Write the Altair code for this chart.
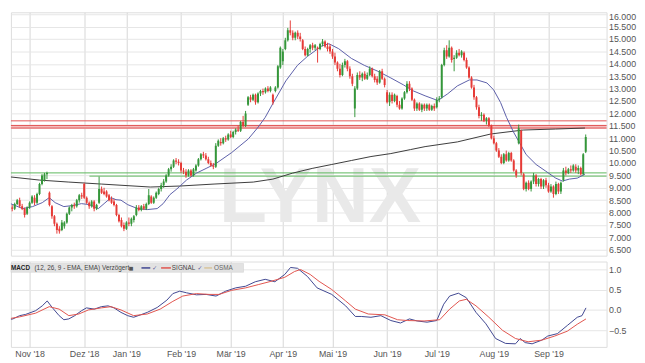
import json
import altair as alt
import pandas as pd

# ---------------- data ----------------
# trading-day index: 0 = first trading day of Nov 2018
FIRST_DAY = -7
opens = [8200, 8150, 8350, 8500, 8250, 8150, 7950,
         8200, 8400, 8600, 8400, 8750, 9150, 9300, 9550, 8800, 8250,
         7850, 7550, 7350, 7300, 7450, 7600, 7950, 8200, 8300, 8250,
         8500, 8700, 9150, 8600, 8400, 8250, 8450, 8150, 8400, 8950,
         8850, 8850, 8700, 8550, 8450, 8300, 7900, 7700, 7500, 7350,
         7600, 7550, 7700, 7900, 8200, 8100, 8250, 8150, 8350, 8650,
         8400, 8600, 8750, 8950, 9100, 9250, 9500, 9750, 9850, 10100,
         10050, 10000, 9700, 9650, 9500, 9700, 9500, 9700, 9900, 10150,
         10350, 10300, 10150, 10000, 9900, 9850, 10700, 10850, 10800, 11000,
         10950, 11150, 11050, 11250, 11350, 11300, 11650, 11500, 12350, 12650,
         12550, 12750, 12450, 12800, 12900, 12850, 13000, 12900, 12750, 12900,
         13050, 13850, 14100, 14600, 14950, 15350, 15250, 15050, 15250, 15100,
         14950, 14600, 14350, 14600, 14750, 14650, 14650, 14600, 14800, 14900,
         14700, 14700, 14500, 14300, 14050, 13800, 13550, 13950, 14100, 13800,
         13500, 12200, 13000, 13550, 13450, 13600, 13400, 13550, 13800, 13500,
         13400, 13250, 13700, 13400, 12850, 12450, 12750, 12500, 12700, 12350,
         12200, 12600, 12850, 13200, 13000, 12550, 12200, 12400, 12150, 12350,
         12200, 12350, 12150, 12300, 12250, 12550, 12650, 13950, 14550, 14300,
         14650, 14200, 14250, 14450, 14350, 14450, 14150, 13850, 13450, 13050,
         12650, 12250, 11900, 11950, 11700, 11800, 11500, 11000, 10800, 10500,
         10250, 10000, 10350, 10100, 10400, 10100, 9700, 10800, 11300, 9550,
         8950, 9200, 8950, 9250, 9500, 9150, 9350, 9050, 9300, 9100,
         8850, 9050, 8750, 9150, 8850, 9300, 9700, 9600, 9750, 9700,
         9850, 9700, 9800, 9550, 10450]
highs = [8300, 8400, 8550, 8600, 8350, 8200, 8250,
         8450, 8700, 8700, 8800, 9200, 9550, 9600, 9650, 8850, 8300,
         7900, 7600, 7450, 7700, 7650, 8000, 8250, 8350, 8400, 8550,
         8750, 8800, 9200, 8650, 8450, 8500, 8500, 8350, 9450, 9050,
         9000, 8900, 8750, 8650, 8550, 8350, 7950, 7800, 7600, 7650,
         7800, 7800, 7900, 8300, 8300, 8300, 8350, 8400, 8950, 8700,
         8650, 8850, 9000, 9200, 9350, 9550, 9800, 9950, 10150, 10200,
         10150, 10050, 9800, 9750, 9750, 9750, 9800, 9950, 10200, 10400,
         10450, 10400, 10250, 10100, 10000, 10800, 10950, 11000, 11050, 11100,
         11200, 11300, 11300, 11400, 11500, 11700, 11900, 12100, 12700, 12750,
         12800, 12800, 12850, 12950, 13000, 13050, 13100, 13100, 12800, 13100,
         13950, 14700, 14600, 15050, 15450, 15750, 15350, 15300, 15350, 15250,
         15000, 14700, 14650, 14800, 14850, 14800, 14700, 14850, 15000, 14950,
         14850, 14800, 14600, 14450, 14100, 14000, 14050, 14200, 14150, 13900,
         13600, 13100, 13650, 13700, 13650, 13700, 13650, 13900, 13850, 13600,
         13500, 13750, 13800, 13450, 12950, 12850, 12850, 12800, 12750, 12500,
         12650, 12900, 13300, 13300, 13050, 12600, 12450, 12450, 12400, 12400,
         12400, 12400, 12350, 12400, 12650, 12700, 14000, 14650, 14750, 14950,
         14700, 14350, 14550, 14600, 14550, 14500, 14250, 13900, 13500, 13150,
         12700, 12350, 12050, 12000, 11850, 11850, 11550, 11100, 10850, 10600,
         10350, 10400, 10500, 10450, 10450, 10150, 9750, 11550, 11350, 9600,
         9250, 9300, 9300, 9600, 9550, 9400, 9400, 9350, 9400, 9200,
         9150, 9100, 9250, 9200, 9250, 9800, 9850, 9800, 9900, 9950,
         9950, 9900, 9850, 10400, 11150]
lows = [8050, 8100, 8300, 8200, 8100, 7800, 7900,
        8150, 8350, 8300, 8350, 8700, 9100, 9250, 9350, 8250, 7750,
        7450, 7150, 7150, 7250, 7350, 7550, 7900, 8050, 8150, 8200,
        8400, 8550, 8550, 8350, 8150, 8200, 8050, 8100, 8350, 8750,
        8700, 8600, 8450, 8350, 8250, 7850, 7600, 7400, 7250, 7300,
        7450, 7450, 7600, 7850, 8050, 8050, 8100, 8100, 8300, 8350,
        8350, 8550, 8700, 8850, 9000, 9200, 9450, 9650, 9800, 9950,
        9900, 9600, 9550, 9400, 9450, 9450, 9450, 9650, 9850, 10100,
        10200, 10100, 9950, 9850, 9750, 9800, 10650, 10700, 10750, 10850,
        10900, 11000, 11000, 11150, 11250, 11250, 11450, 11450, 12300, 12450,
        12500, 12350, 12400, 12700, 12750, 12800, 12850, 12850, 12350, 12850,
        13000, 13800, 13950, 14550, 14900, 15150, 14950, 14950, 15000, 14900,
        14550, 14300, 14300, 14450, 14550, 14550, 14050, 14550, 14700, 14650,
        14500, 14400, 14200, 13950, 13700, 13450, 13500, 13850, 13700, 13400,
        13100, 11850, 12950, 13350, 13300, 13350, 13350, 13500, 13450, 13250,
        13150, 13200, 13350, 13050, 12400, 12300, 12400, 12450, 12250, 12150,
        12150, 12550, 12800, 12900, 12500, 12100, 12100, 12100, 12050, 12100,
        12100, 12100, 12100, 12100, 12200, 12450, 12600, 13900, 14200, 14250,
        14050, 13700, 14200, 14300, 14250, 14100, 13800, 13400, 13000, 12550,
        12150, 11800, 11700, 11650, 11550, 11450, 10950, 10750, 10450, 10200,
        9950, 9950, 10050, 10050, 10050, 9650, 9400, 10750, 9500, 8900,
        8850, 8900, 8850, 9150, 9050, 9050, 8950, 8950, 9000, 8800,
        8800, 8600, 8700, 8750, 8750, 9250, 9500, 9550, 9600, 9650,
        9600, 9550, 9500, 9500, 10400]
closes = [8150, 8350, 8500, 8250, 8150, 7900, 8200,
          8400, 8650, 8400, 8750, 9150, 9500, 9550, 9600, 8300, 7850,
          7550, 7300, 7250, 7600, 7600, 7950, 8200, 8300, 8250, 8500,
          8700, 8650, 8600, 8400, 8250, 8450, 8150, 8300, 8950, 8800,
          8750, 8650, 8500, 8400, 8300, 7900, 7650, 7450, 7350, 7600,
          7550, 7750, 7850, 8200, 8100, 8250, 8150, 8350, 8700, 8400,
          8600, 8800, 8950, 9100, 9250, 9500, 9750, 9850, 10100, 10050,
          10000, 9700, 9650, 9500, 9700, 9500, 9750, 9900, 10150, 10350,
          10300, 10150, 10000, 9900, 9850, 10700, 10900, 10800, 11000, 10950,
          11150, 11050, 11250, 11350, 11300, 11650, 11500, 12000, 12650, 12550,
          12750, 12450, 12800, 12900, 12850, 13000, 12900, 13050, 12450, 13050,
          13900, 14650, 14500, 14950, 15350, 15250, 15050, 15250, 15100, 15000,
          14600, 14350, 14600, 14750, 14650, 14750, 14600, 14800, 14900, 14700,
          14600, 14500, 14300, 14050, 13800, 13550, 13950, 14100, 13800, 13500,
          13200, 13000, 13550, 13450, 13600, 13400, 13550, 13800, 13500, 13350,
          13250, 13700, 13400, 13150, 12450, 12750, 12500, 12750, 12350, 12200,
          12600, 12850, 13200, 13000, 12550, 12200, 12400, 12150, 12350, 12200,
          12350, 12150, 12300, 12200, 12550, 12600, 13950, 14550, 14300, 14650,
          14150, 14250, 14450, 14350, 14500, 14150, 13850, 13450, 13050, 12650,
          12250, 11900, 11950, 11700, 11800, 11500, 11000, 10800, 10500, 10250,
          10000, 10350, 10100, 10400, 10100, 9700, 9500, 11400, 9600, 8950,
          9200, 8950, 9250, 9500, 9150, 9350, 9050, 9300, 9100, 8850,
          9050, 8750, 9150, 8850, 9200, 9700, 9600, 9750, 9700, 9900,
          9700, 9800, 9550, 10350, 11050]

# blue moving average (read at sample days)
ma_fast_day = [-10.7, -6.7, -2.8, 1.2, 5.1, 7.9, 10.3, 13.8, 17.0, 20.9, 24.1, 27.7, 30.0,
               32.8, 34.8, 36.8, 39.5, 43.5, 47.4, 51.4, 53.8, 56.5, 59.3, 63.2, 67.2, 71.1,
               75.1, 81.4, 88.1, 92.1, 94.9, 98.0, 103.2, 107.9, 111.9, 117.8, 120.6, 124.5,
               129.6, 134.8, 140.3, 145.5, 150.6, 154.5, 159.3, 164.4, 168.4, 172.3, 177.1,
               180.2, 184.2, 186.9, 189.7, 192.1, 194.9, 197.6, 200.0, 204.0, 207.9, 211.9,
               214.6, 217.4, 220.6, 223.7]
ma_fast_val = [8480, 8320, 8160, 8240, 8400, 8600, 8400, 8240, 8280, 8360, 8320, 8160, 8360,
               8600, 8520, 8500, 8320, 8160, 8120, 8160, 8360, 8720, 8950, 9310, 9590, 9780,
               9980, 10420, 10970, 11450, 11840, 12400, 13310, 13940, 14300, 14730, 14810, 14610,
               14220, 13940, 13700, 13430, 13150, 12910, 12710, 12520, 12790, 13110, 13350,
               13350, 13230, 12950, 12440, 11840, 11250, 10770, 10340, 9940, 9670, 9390,
               9270, 9350, 9390, 9550]
# black (long) moving average
ma_slow_day = [-10.7, 4.0, 15.8, 28.9, 48.6, 60.5, 74.3, 90.1, 98.0, 105.9, 113.8, 121.7,
               129.6, 137.5, 145.5, 153.4, 159.3, 172.3, 185.8, 198.8, 211.9, 223.7]
ma_slow_val = [9470, 9310, 9230, 9150, 9030, 9070, 9150, 9230, 9350, 9590, 9780, 9940,
               10100, 10260, 10380, 10540, 10660, 10850, 11170, 11330, 11370, 11410]

# horizontal levels
resistance = [11700, 11510, 11410]
resistance_band = [11460]
support_full = [9600]
support_part = [9470]
support_part_from = [24.1]
support_part_to = [232.4]

# MACD
macd_day = [-10.7, -6.7, -4.0, -1.6, 2.4, 5.1, 7.1, 9.1, 11.9, 13.8, 15.8, 18.2, 20.9, 22.9,
            26.1, 28.9, 31.6, 34.0, 36.8, 39.5, 41.9, 44.7, 47.4, 51.4, 55.3, 57.7, 60.5,
            63.2, 67.2, 71.1, 75.1, 79.0, 83.0, 87.0, 90.9, 94.9, 98.8, 102.8, 105.1, 107.9,
            111.9, 115.8, 121.7, 127.3, 131.2, 133.6, 137.5, 141.5, 145.5, 149.4, 153.0,
            156.1, 160.1, 164.0, 166.8, 169.2, 172.7, 175.9, 179.8, 183.8, 187.7, 191.7,
            195.7, 197.6, 199.6, 202.4, 206.3, 208.7, 212.6, 216.6, 220.6, 222.5, 224.1]
macd_val = [-0.26, -0.22, -0.14, -0.11, -0.02, 0.10, 0.22, 0.06, -0.14, -0.24, -0.22, -0.14,
            -0.02, 0.05, 0.02, 0.08, 0.10, 0.05, -0.06, -0.14, -0.18, -0.12, -0.06, 0.06,
            0.24, 0.40, 0.46, 0.42, 0.37, 0.38, 0.34, 0.46, 0.54, 0.58, 0.69, 0.75, 0.69,
            0.87, 1.04, 1.02, 0.82, 0.54, 0.38, 0.10, -0.16, -0.16, -0.18, -0.14, -0.26,
            -0.32, -0.22, -0.27, -0.30, -0.26, 0.14, 0.34, 0.41, 0.30, -0.06, -0.34, -0.70,
            -0.82, -0.83, -0.70, -0.80, -0.83, -0.74, -0.64, -0.58, -0.38, -0.18, -0.14, 0.05]
signal_day = [-10.7, -4.0, 2.4, 7.9, 11.9, 15.8, 19.8, 23.7, 28.9, 32.8, 36.8, 41.9, 47.4,
              52.6, 57.7, 61.7, 67.2, 72.3, 76.3, 81.4, 87.0, 92.1, 97.2, 102.8, 106.7, 109.1,
              113.0, 116.6, 121.7, 127.3, 131.2, 136.4, 143.1, 148.2, 152.2, 158.9, 165.2,
              169.2, 173.1, 175.9, 179.8, 185.0, 190.5, 195.7, 200.8, 206.3, 211.5, 216.6,
              220.6, 224.1]
signal_val = [-0.24, -0.17, -0.08, 0.08, 0.02, -0.14, -0.10, 0.00, 0.05, 0.08, 0.00, -0.14,
              -0.10, 0.02, 0.21, 0.34, 0.40, 0.38, 0.38, 0.48, 0.54, 0.62, 0.70, 0.80, 0.94,
              0.99, 0.87, 0.70, 0.50, 0.22, 0.02, -0.10, -0.12, -0.24, -0.26, -0.27, -0.24,
              0.02, 0.22, 0.26, 0.10, -0.18, -0.50, -0.70, -0.78, -0.74, -0.64, -0.52, -0.35,
              -0.22]

# axis ticks
month_days = [0, 22, 39, 61, 81, 102, 122, 144, 164, 187, 209]
month_labels = ["Nov '18", "Dez '18", "Jan '19", "Feb '19", "Mär '19", "Apr '19",
                "Mai '19", "Jun '19", "Jul '19", "Aug '19", "Sep '19"]
price_ticks = [6500, 7000, 7500, 8000, 8500, 9000, 9500, 10000, 10500, 11000, 11500,
               12000, 12500, 13000, 13500, 14000, 14500, 15000, 15500, 16000]
macd_ticks = [-0.5, 0.0, 0.5, 1.0]

# ---------------- chart ----------------
FONT = "Liberation Sans"
GREEN = "#34963a"
RED = "#e63b37"
W, H_MAIN, H_MACD = 607, 248, 87

candles = pd.DataFrame({"i": list(range(FIRST_DAY, FIRST_DAY + len(closes))),
                        "o": opens, "h": highs, "l": lows, "c": closes})

xs = alt.Scale(domain=[-7.51, 232.4], nice=False, zero=False, padding=0)
ys = alt.Scale(domain=[6261, 16079], nice=False, zero=False, padding=0)

month_axis_main = alt.Axis(values=month_days, grid=True, gridColor="#d6d6d6",
                           labels=False, ticks=False, domain=False, title=None, minExtent=0)
price_axis = alt.Axis(orient="right", values=price_ticks, grid=True, gridColor="#e6e6e6",
                      ticks=False, domain=False, title=None, labelFontSize=9, labelPadding=2,
                      labelColor="#555555", labelFont=FONT,
                      labelOffset={"condition": {"test": "datum.value >= 16000", "value": 2.5},
                                   "value": 0},
                      labelExpr="replace(format(datum.value, ',.0f'), ',', '.')")


def xm(field="i"):
    return alt.X(f"{field}:Q", scale=xs, axis=month_axis_main)


def ym(field):
    return alt.Y(f"{field}:Q", scale=ys, axis=price_axis)


candle_color = alt.condition("datum.c >= datum.o", alt.value(GREEN), alt.value(RED))

watermark = alt.Chart(pd.DataFrame({"t": ["LYNX"]})).mark_text(
    font=FONT, fontSize=80, fontWeight="bold", color="#e9e9e9",
    align="center", baseline="alphabetic"
).encode(text="t:N", x=alt.value(315), y=alt.value(214))

band = alt.Chart(pd.DataFrame({"y": resistance_band})).mark_rule(
    color="#f4c3c3", strokeWidth=4).encode(y=ym("y"))
res = alt.Chart(pd.DataFrame({"y": resistance})).mark_rule(
    color="#e05555", strokeWidth=1).encode(y=ym("y"))
sup1 = alt.Chart(pd.DataFrame({"y": support_full})).mark_rule(
    color="#5cb85c", strokeWidth=1).encode(y=ym("y"))
sup2 = alt.Chart(pd.DataFrame({"y": support_part, "x": support_part_from,
                               "x2": support_part_to})).mark_rule(
    color="#5cb85c", strokeWidth=1).encode(x=xm("x"), x2="x2:Q", y=ym("y"))

slow = alt.Chart(pd.DataFrame({"i": ma_slow_day, "v": ma_slow_val})).mark_line(
    color="#3a3a3a", strokeWidth=1, clip=True).encode(x=xm(), y=ym("v"))
fast = alt.Chart(pd.DataFrame({"i": ma_fast_day, "v": ma_fast_val})).mark_line(
    color="#5b5ea8", strokeWidth=1, clip=True).encode(x=xm(), y=ym("v"))

wicks = alt.Chart(candles).mark_rule(strokeWidth=1, clip=True).encode(
    x=xm(), y=ym("l"), y2="h:Q", color=candle_color)
bodies = alt.Chart(candles).mark_bar(size=2, clip=True, orient="vertical").encode(
    x=xm(), y=ym("o"), y2="c:Q", color=candle_color)

main = alt.layer(watermark, band, res, sup1, sup2, slow, fast, wicks, bodies).properties(
    width=W, height=H_MAIN)

# ---- MACD panel ----
label_expr = (json.dumps(month_labels, ensure_ascii=False)
              + "[indexof(" + json.dumps(month_days) + ", datum.value)]")
x_macd = alt.X("i:Q", scale=xs, axis=alt.Axis(values=month_days, grid=True, gridColor="#d6d6d6",
                                               ticks=False, domain=False, title=None,
                                               labelExpr=label_expr, labelFontSize=9,
                                               labelPadding=3, labelColor="#555555",
                                               labelFont=FONT))
y_macd = alt.Y("v:Q", scale=alt.Scale(domain=[-0.906, 1.185], nice=False, zero=False),
               axis=alt.Axis(orient="right", values=macd_ticks, format=".1f", grid=True,
                             gridColor="#e6e6e6", ticks=False, domain=False, title=None,
                             labelFontSize=9, labelPadding=2, labelColor="#555555",
                             labelFont=FONT))

macd_line = alt.Chart(pd.DataFrame({"i": macd_day, "v": macd_val})).mark_line(
    color="#3e4590", strokeWidth=1, clip=True).encode(x=x_macd, y=y_macd)
signal_line = alt.Chart(pd.DataFrame({"i": signal_day, "v": signal_val})).mark_line(
    color="#e0534d", strokeWidth=1, clip=True).encode(x=x_macd, y=y_macd)

one = pd.DataFrame({"t": [""]})
legend_box = alt.Chart(one).mark_rect(color="#e2e2e2", stroke="#d0d0d0", strokeWidth=0.5).encode(
    x=alt.value(0), x2=alt.value(237), y=alt.value(2), y2=alt.value(11))


def legend_text(txt, x, bold=False, color="#333333", font=FONT, size=6.5):
    return alt.Chart(pd.DataFrame({"t": [txt]})).mark_text(
        font=font, fontSize=size, fontWeight="bold" if bold else "normal", color=color,
        align="left", baseline="middle").encode(text="t:N", x=alt.value(x), y=alt.value(6.8))


def legend_seg(x1, x2, color):
    return alt.Chart(one).mark_rule(color=color, strokeWidth=1.5).encode(
        x=alt.value(x1), x2=alt.value(x2), y=alt.value(6.5))


legend = [
    legend_box,
    legend_text("MACD", 0, bold=True, color="#222222"),
    legend_text("(12, 26, 9 - EMA, EMA) Verzögert", 24, color="#444444"),
    legend_text("■", 120, color="#555555", font="DejaVu Sans", size=5),
    legend_seg(133, 142, "#3e4590"),
    legend_text("✓", 144, color="#3e4590", font="DejaVu Sans", size=6),
    legend_seg(153, 163, "#e0534d"),
    legend_text("SIGNAL", 164, color="#444444"),
    legend_text("✓", 190, color="#3e4590", font="DejaVu Sans", size=6),
    legend_seg(197, 205, "#d8c49a"),
    legend_text("OSMA", 207, color="#666666"),
]

macd = alt.layer(macd_line, signal_line, *legend).properties(width=W, height=H_MACD)

chart = alt.vconcat(main, macd, spacing=4, padding=0).configure_view(
    stroke="#cfcfcf").configure(background="white")

chart.save("out.html", embed_options={"renderer": "svg", "actions": False})
